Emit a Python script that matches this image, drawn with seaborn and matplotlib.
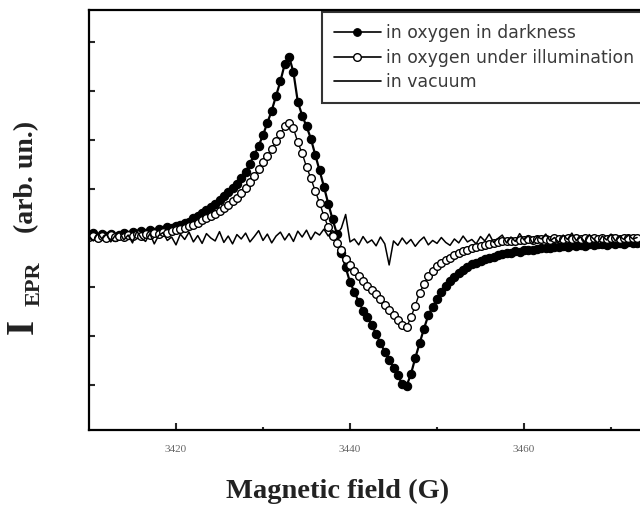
import numpy as np
import pandas as pd
import matplotlib
matplotlib.use("Agg")
import matplotlib.pyplot as plt
import seaborn as sns
from matplotlib.ticker import FixedLocator, NullFormatter

# ---------------- data ----------------
field = np.arange(3410.0, 3473.01, 0.5)   # magnetic field sampling (G)

dark = [0.06, 0.10, 0.02, 0.08, 0.04, 0.09, 0.03, 0.07, 0.10,
        0.06, 0.12, 0.09, 0.15, 0.11, 0.16, 0.13, 0.18,
        0.17, 0.22, 0.20, 0.24, 0.26, 0.30, 0.33, 0.40,
        0.45, 0.52, 0.57, 0.64, 0.70, 0.78, 0.85, 0.94,
        1.02, 1.10, 1.22, 1.35, 1.52, 1.70, 1.88, 2.10,
        2.35, 2.60, 2.90, 3.20, 3.55, 3.70, 3.38, 2.78,
        2.50, 2.28, 2.03, 1.70, 1.38, 1.05, 0.70, 0.38,
        0.08, -0.30, -0.60, -0.90, -1.10, -1.30, -1.48, -1.62,
        -1.78, -1.95, -2.15, -2.32, -2.48, -2.65, -2.80, -2.98,
        -3.02, -2.78, -2.45, -2.15, -1.85, -1.58, -1.40, -1.25,
        -1.10, -0.97, -0.88, -0.79, -0.71, -0.65, -0.59, -0.53,
        -0.50, -0.46, -0.43, -0.40, -0.38, -0.35, -0.33, -0.31,
        -0.30, -0.27, -0.28, -0.25, -0.24, -0.24, -0.22, -0.21,
        -0.20, -0.21, -0.18, -0.19, -0.16, -0.18, -0.15, -0.17,
        -0.14, -0.16, -0.13, -0.15, -0.13, -0.12, -0.14, -0.11,
        -0.13, -0.10, -0.12, -0.09, -0.11, -0.10]

illum = [0.02, 0.05, 0.00, 0.04, 0.01, 0.06, 0.03, 0.05, 0.02,
         0.06, 0.04, 0.08, 0.05, 0.09, 0.07, 0.10, 0.09,
         0.12, 0.11, 0.14, 0.16, 0.18, 0.20, 0.24, 0.27,
         0.31, 0.36, 0.40, 0.45, 0.50, 0.56, 0.62, 0.68,
         0.75, 0.82, 0.92, 1.02, 1.14, 1.26, 1.40, 1.55,
         1.68, 1.82, 1.98, 2.12, 2.28, 2.35, 2.24, 1.95,
         1.73, 1.45, 1.22, 0.96, 0.72, 0.45, 0.22, 0.05,
         -0.10, -0.25, -0.42, -0.55, -0.68, -0.78, -0.88, -0.98,
         -1.06, -1.15, -1.25, -1.36, -1.47, -1.58, -1.68, -1.78,
         -1.82, -1.62, -1.38, -1.12, -0.94, -0.78, -0.67, -0.58,
         -0.51, -0.45, -0.40, -0.35, -0.31, -0.27, -0.24, -0.21,
         -0.19, -0.16, -0.14, -0.12, -0.10, -0.09, -0.07, -0.06,
         -0.07, -0.06, -0.04, -0.05, -0.03, -0.04, -0.02, -0.03,
         -0.02, -0.04, -0.01, -0.03, -0.02, 0.00, -0.03, -0.01,
         -0.02, 0.00, -0.03, -0.01, -0.02, 0.01, -0.02, -0.01,
         0.00, -0.02, -0.01, 0.01, -0.01, 0.00]

vacuum = [0.04, -0.06, 0.10, -0.02, 0.08, -0.08, 0.05, 0.12, -0.04,
          0.06, -0.10, 0.14, 0.00, -0.07, 0.09, -0.12, 0.05,
          0.11, -0.05, 0.02, -0.14, 0.08, -0.03, 0.12, -0.08,
          0.05, -0.11, 0.09, 0.00, -0.06, 0.13, -0.09, 0.04,
          -0.12, 0.07, -0.02, 0.10, -0.08, 0.03, 0.15, -0.05,
          0.08, -0.10, 0.04, 0.12, -0.04, 0.09, -0.07, 0.14,
          0.02, 0.16, -0.03, 0.12, 0.06, 0.18, 0.04, 0.15,
          0.08, 0.20, 0.48, -0.08, -0.02, -0.14, 0.03, -0.10,
          -0.04, -0.16, 0.02, -0.12, -0.55, -0.06, -0.15, 0.00,
          -0.12, -0.03, -0.17, -0.06, 0.02, -0.14, -0.05, -0.11,
          0.01, -0.09, -0.15, -0.02, -0.10, 0.04, -0.08, -0.03,
          -0.12, 0.03, -0.06, 0.08, -0.09, -0.01, 0.06, -0.10,
          0.02, -0.07, 0.09, -0.04, 0.05, -0.11, 0.03, -0.02,
          0.08, -0.06, 0.01, -0.09, 0.06, -0.03, 0.10, -0.05,
          0.02, -0.08, 0.07, -0.02, -0.10, 0.04, -0.04, 0.08,
          -0.06, 0.03, -0.03, 0.06, -0.02, 0.01]

labels = ["in oxygen in darkness", "in oxygen under illumination", "in vacuum"]
x_ticks = [3420, 3440, 3460]
x_minor = [3430, 3450, 3470]
y_ticks = [-3, -2, -1, 0, 1, 2, 3, 4]

# ---------------- style ----------------
sns.set_style("white")
plt.rcParams["font.family"] = ["DejaVu Sans"]

fig = plt.figure(figsize=(6.4, 5.11), dpi=100)
W, H = 640.0, 511.0
left, right, top, bottom = 89, 680, 10, 430
ax = fig.add_axes([left / W, 1 - bottom / H, (right - left) / W, (bottom - top) / H])

df = pd.DataFrame({"field": field, "dark": dark, "illum": illum, "vac": vacuum})

sns.lineplot(data=df, x="field", y="dark", ax=ax, color="black", linewidth=1.6,
             marker="o", markersize=6, markerfacecolor="black",
             markeredgecolor="black", markeredgewidth=0.8, label=labels[0])
sns.lineplot(data=df, x="field", y="illum", ax=ax, color="black", linewidth=1.0,
             marker="o", markersize=5.5, markerfacecolor="white",
             markeredgecolor="black", markeredgewidth=1.0, label=labels[1])
sns.lineplot(data=df, x="field", y="vac", ax=ax, color="black", linewidth=1.1,
             label=labels[2])

ax.set_xlim(3410, 3410 + (right - left) / 8.7)
ax.set_ylim(-(bottom - 238) / 49.0, (238 - top) / 49.0)

ax.xaxis.set_major_locator(FixedLocator(x_ticks))
ax.xaxis.set_minor_locator(FixedLocator(x_minor))
ax.yaxis.set_major_locator(FixedLocator(y_ticks))
ax.set_xticklabels([str(t) for t in x_ticks], fontfamily="Liberation Serif",
                   fontsize=8, color="#666666")
ax.yaxis.set_major_formatter(NullFormatter())
ax.tick_params(axis="x", which="major", direction="in", length=5, width=1.5,
               pad=11, bottom=True, top=False)
ax.tick_params(axis="x", which="minor", direction="in", length=2, width=1.5,
               bottom=True, top=False)
ax.tick_params(axis="y", which="major", direction="in", length=4, width=1.5,
               left=True, right=False)
for s in ax.spines.values():
    s.set_linewidth(1.6)
    s.set_color("black")
ax.set_xlabel("")
ax.set_ylabel("")

leg = ax.legend(loc="upper left", bbox_to_anchor=((322 - left) / (right - left), (bottom - 12) / (bottom - top)),
                frameon=True, fancybox=False, edgecolor="black", fontsize=12.4,
                handlelength=2.7, handletextpad=0.3, labelspacing=0.38,
                borderpad=0.7, borderaxespad=0)
leg.get_frame().set_linewidth(1.5)
for t in leg.get_texts():
    t.set_color("#3a3a3a")
for h in leg.get_lines():
    h.set_linewidth(1.2)
    h.set_markersize(5.5)

fig.text(338 / W, 1 - 491 / H, "Magnetic field (G)", ha="center", va="center",
         fontfamily="Liberation Serif", fontweight="bold", fontsize=20.5, color="#222222")

# y-axis label: big "I", subscript "EPR", then "(arb. un.)"
fig.text(23 / W, 1 - 326 / H, "I", ha="center", va="center", rotation=90,
         fontfamily="Liberation Serif", fontweight="bold", fontsize=28, color="#222222")
fig.text(35 / W, 1 - 284 / H, "EPR", ha="center", va="center", rotation=90,
         fontfamily="Liberation Serif", fontweight="bold", fontsize=16, color="#222222")
fig.text(27 / W, 1 - 177 / H, "(arb. un.)", ha="center", va="center", rotation=90,
         fontfamily="Liberation Serif", fontweight="bold", fontsize=20, color="#222222")

fig.savefig("out.png", dpi=100)
